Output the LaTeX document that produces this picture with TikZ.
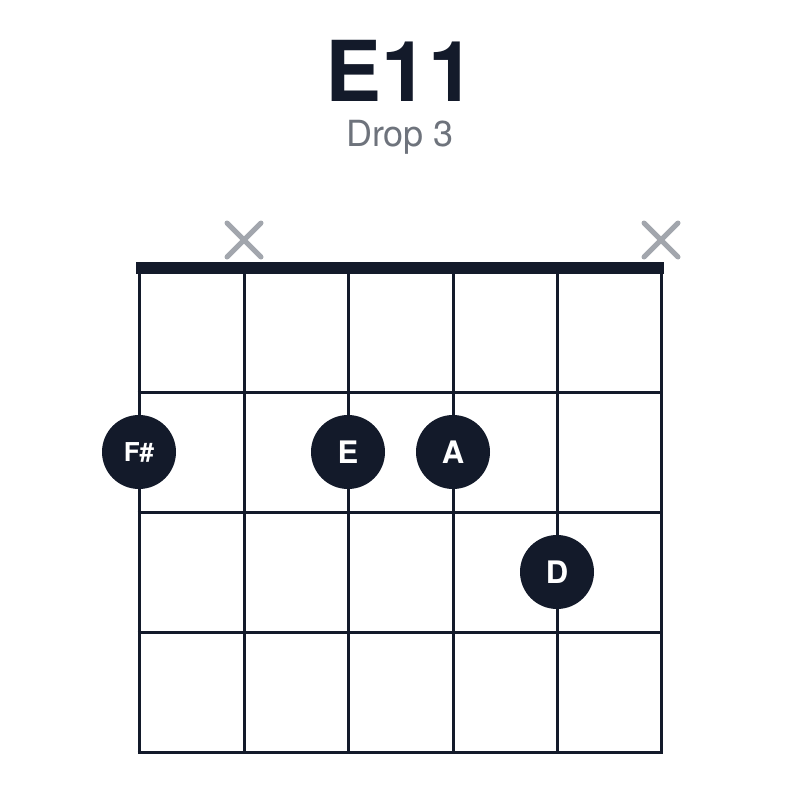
\documentclass[tikz,border=0pt]{standalone}
\usepackage{fontspec}
\setmainfont{TeX Gyre Heros}
\usepackage{xcolor}
\usepackage{tikz}
\usetikzlibrary{calc}

\definecolor{ink}{HTML}{131A2A}
\definecolor{mute}{HTML}{A2A6AD}
\definecolor{sub}{HTML}{6E737C}

\begin{document}
\begin{tikzpicture}[x=1pt,y=-1pt]
    \useasboundingbox (0,0) rectangle (800,800);
    % --- styles
    \tikzset{
      wire/.style={ink,line width=3pt},
      fret/.style={ink,line width=3pt},
      nutbar/.style={ink,line width=12pt},
      mutex/.style={mute,line width=5pt,line cap=round},
      finger/.style={circle,fill=ink,minimum size=74pt,inner sep=0pt,text=white,font=\fontsize{31}{31}\selectfont\bfseries},
    }

    % --- title
    \node[ink,anchor=base,inner sep=0pt,font=\fontsize{84}{84}\selectfont\bfseries] (title) at (400,101) {E11};
    \node[sub,anchor=base,inner sep=0pt,font=\fontsize{36}{36}\selectfont] (subtitle) at (400,146) {Drop 3};

    % --- strings and frets
    \foreach \s/\x in {1/139,2/244,3/348,4/453,5/557,6/661}{\coordinate (s\s) at (\x,268);}
    \foreach \s in {1,...,6}{\draw[wire] (s\s) -- ++(0,484);}
    \foreach \f/\y in {1/392,2/512,3/632,4/752}{\draw[fret] (137.5,\y) -- (662.5,\y);}
    \draw[nutbar] (136,268) -- (664,268);

    % --- muted strings
    \foreach \x in {244,661}{\draw[mutex] (\x-17,223) -- (\x+17,257) (\x-17,257) -- (\x+17,223);}

    % --- fingers
    \node[finger,font=\fontsize{26}{26}\selectfont\bfseries] (fs) at (139,452) {F\#};
    \node[finger] (fe) at (348,452) {E};
    \node[finger] (fa) at (453,452) {A};
    \node[finger] (fd) at (557,572) {D};
\end{tikzpicture}
\end{document}
